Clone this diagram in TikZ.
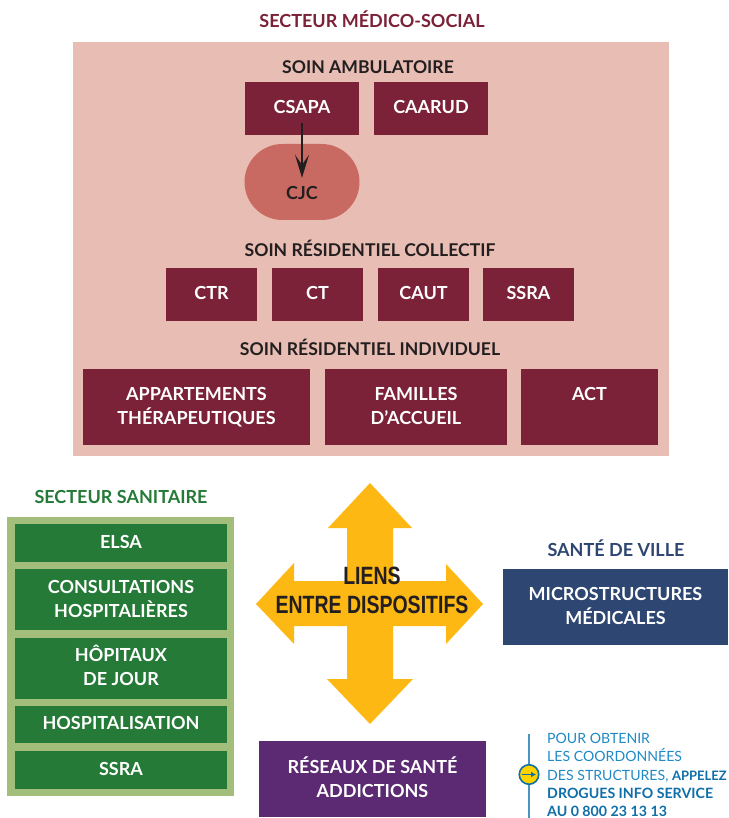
\documentclass[tikz,border=0pt]{standalone}
\usepackage{fontspec}
\usetikzlibrary{shapes.misc,arrows.meta}
\setmainfont{Lato}
\newfontfamily\condfont[FakeStretch=0.78]{Liberation Sans}
\definecolor{wine}{HTML}{7B2238}
\definecolor{panel}{HTML}{E8BDB3}
\definecolor{pill}{HTML}{C96A62}
\definecolor{darktext}{HTML}{231F20}
\definecolor{sgreen}{HTML}{267A38}
\definecolor{lgreen}{HTML}{A3BE7A}
\definecolor{navy}{HTML}{2E4672}
\definecolor{violet}{HTML}{5B2A72}
\definecolor{gold}{HTML}{FDB813}
\definecolor{sun}{HTML}{FFD200}
\definecolor{infoblue}{HTML}{1F8AC6}
\definecolor{infodark}{HTML}{0F6FA8}
\definecolor{infoline}{HTML}{4A94C0}
\newcommand{\rectnode}[7]{%
  \pgfmathsetmacro{\rw}{#4-#2}\pgfmathsetmacro{\rh}{#5-#3}%
  \pgfmathsetmacro{\cx}{(#4+#2)/2}\pgfmathsetmacro{\cy}{(#5+#3)/2}%
  \node[#6,minimum width=\rw pt,minimum height=\rh pt] (#1) at (\cx,\cy) {#7};}
\newcommand{\infobold}[2][14.2]{{\fontsize{#1}{18.6}\selectfont\bfseries\color{infodark}#2}}
\tikzset{
  x=1pt,y=-1pt,
  box/.style={inner sep=0pt,align=center,text=white,text depth=3pt,font=\fontsize{18}{24}\selectfont\bfseries},
  winebox/.style={box,fill=wine},
  greenbox/.style={box,fill=sgreen},
  navybox/.style={box,fill=navy},
  violetbox/.style={box,fill=violet},
  heading/.style={inner sep=0pt,font=\fontsize{18}{22}\selectfont\bfseries},
  subheading/.style={inner sep=0pt,text=darktext,font=\fontsize{17.6}{22}\selectfont\bfseries},
  infotext/.style={inner sep=0pt,anchor=west,text=infoblue,font=\fontsize{14.1}{18.4}\selectfont,align=left},
}
\begin{document}
\begin{tikzpicture}
\useasboundingbox (0,0) rectangle (728,818);
\fill[white] (0,0) rectangle (728,818);
\node[heading,text=wine] (tmedico) at (372,19) {SECTEUR MÉDICO-SOCIAL};
\rectnode{panelbg}{73}{42}{669}{456}{fill=panel,inner sep=0pt}{}
\node[subheading] (tamb) at (368,67.5) {SOIN AMBULATOIRE};
\rectnode{csapa}{245}{82}{359}{135}{winebox}{CSAPA}
\rectnode{caarud}{374}{82}{488}{135}{winebox}{CAARUD}
\node[fill=pill,rounded rectangle,minimum width=115pt,minimum height=76pt,inner sep=0pt] (cjc) at (302,182) {};
\node[heading,text=darktext] (tcjc) at (302,193) {CJC};
\draw[darktext,line width=2.3pt,-{Stealth[length=23pt,width=14pt,inset=10pt]},shorten <=-12pt,shorten >=-34pt] (csapa.south) -- (cjc.north);
\node[subheading] (tcoll) at (370,248) {SOIN RÉSIDENTIEL COLLECTIF};
\rectnode{ctr}{166}{268}{257}{321}{winebox}{CTR}
\rectnode{ct}{272}{268}{363}{321}{winebox}{CT}
\rectnode{caut}{378}{268}{469}{321}{winebox}{CAUT}
\rectnode{ssraa}{483}{268}{574}{321}{winebox}{SSRA}
\node[subheading] (tindiv) at (370,347.5) {SOIN RÉSIDENTIEL INDIVIDUEL};
\rectnode{appart}{83}{369}{310}{445}{winebox}{APPARTEMENTS\\THÉRAPEUTIQUES}
\rectnode{familles}{325}{369}{507}{445}{winebox}{FAMILLES\\D’ACCUEIL}
\rectnode{act}{521}{369}{658}{445}{winebox,text depth=26pt}{ACT}
% secteur sanitaire
\node[heading,text=sgreen] (tsan) at (121,497) {SECTEUR SANITAIRE};
\rectnode{sanbg}{7}{517}{234}{796}{fill=lgreen,inner sep=0pt}{}
\rectnode{elsa}{15}{524}{227}{562}{greenbox}{ELSA}
\rectnode{cons}{15}{569}{227}{630}{greenbox,text depth=1.5pt}{CONSULTATIONS\\HOSPITALIÈRES}
\rectnode{hop}{15}{638}{227}{699}{greenbox,text depth=6pt}{HÔPITAUX\\DE JOUR}
\rectnode{hosp}{15}{706}{227}{743}{greenbox}{HOSPITALISATION}
\rectnode{ssrb}{15}{751}{227}{789}{greenbox}{SSRA}
% big arrow
\fill[gold] (370,483) -- (412,528) -- (393,528) -- (393,581) -- (446,581) -- (446,564)
  -- (483,604) -- (446,644) -- (446,626) -- (393,626) -- (393,679) -- (413,679)
  -- (370,724) -- (327,679) -- (347,679) -- (347,626) -- (294,626) -- (294,644)
  -- (256,604) -- (294,563) -- (294,581) -- (347,581) -- (347,528) -- (328,528) -- cycle;
\node[inner sep=0pt,align=center,text=darktext,font=\fontsize{25}{29}\condfont\bfseries] (liens) at (372,590) {LIENS\\ENTRE DISPOSITIFS};
% ville
\node[heading,text=navy] (tville) at (616,548) {SANTÉ DE VILLE};
\rectnode{micro}{503}{569}{728}{645}{navybox}{MICROSTRUCTURES\\MÉDICALES}
\rectnode{reseaux}{259}{741}{486}{817}{violetbox,text depth=3pt}{RÉSEAUX DE SANTÉ\\ADDICTIONS}
% info
\coordinate (ltop) at (529,734);
\coordinate (lbot) at (529,818);
\draw[infoline,line width=1.5pt] (ltop) -- (lbot);
\node[circle,draw=infodark,line width=1.6pt,fill=sun,minimum size=19.5pt,inner sep=0pt] (ico) at (529,774.5) {};
\draw[infodark,line width=1.3pt,-{Latex[length=5pt,width=6pt]}] (522,774.5) -- (536,774.5);
\node[infotext] (info) at (547,775) {POUR OBTENIR\\LES COORDONNÉES\\DES STRUCTURES, \infobold[13]{APPELEZ}\\\infobold{DROGUES INFO SERVICE}\\\infobold{AU 0 800 23 13 13}};
\end{tikzpicture}
\end{document}
